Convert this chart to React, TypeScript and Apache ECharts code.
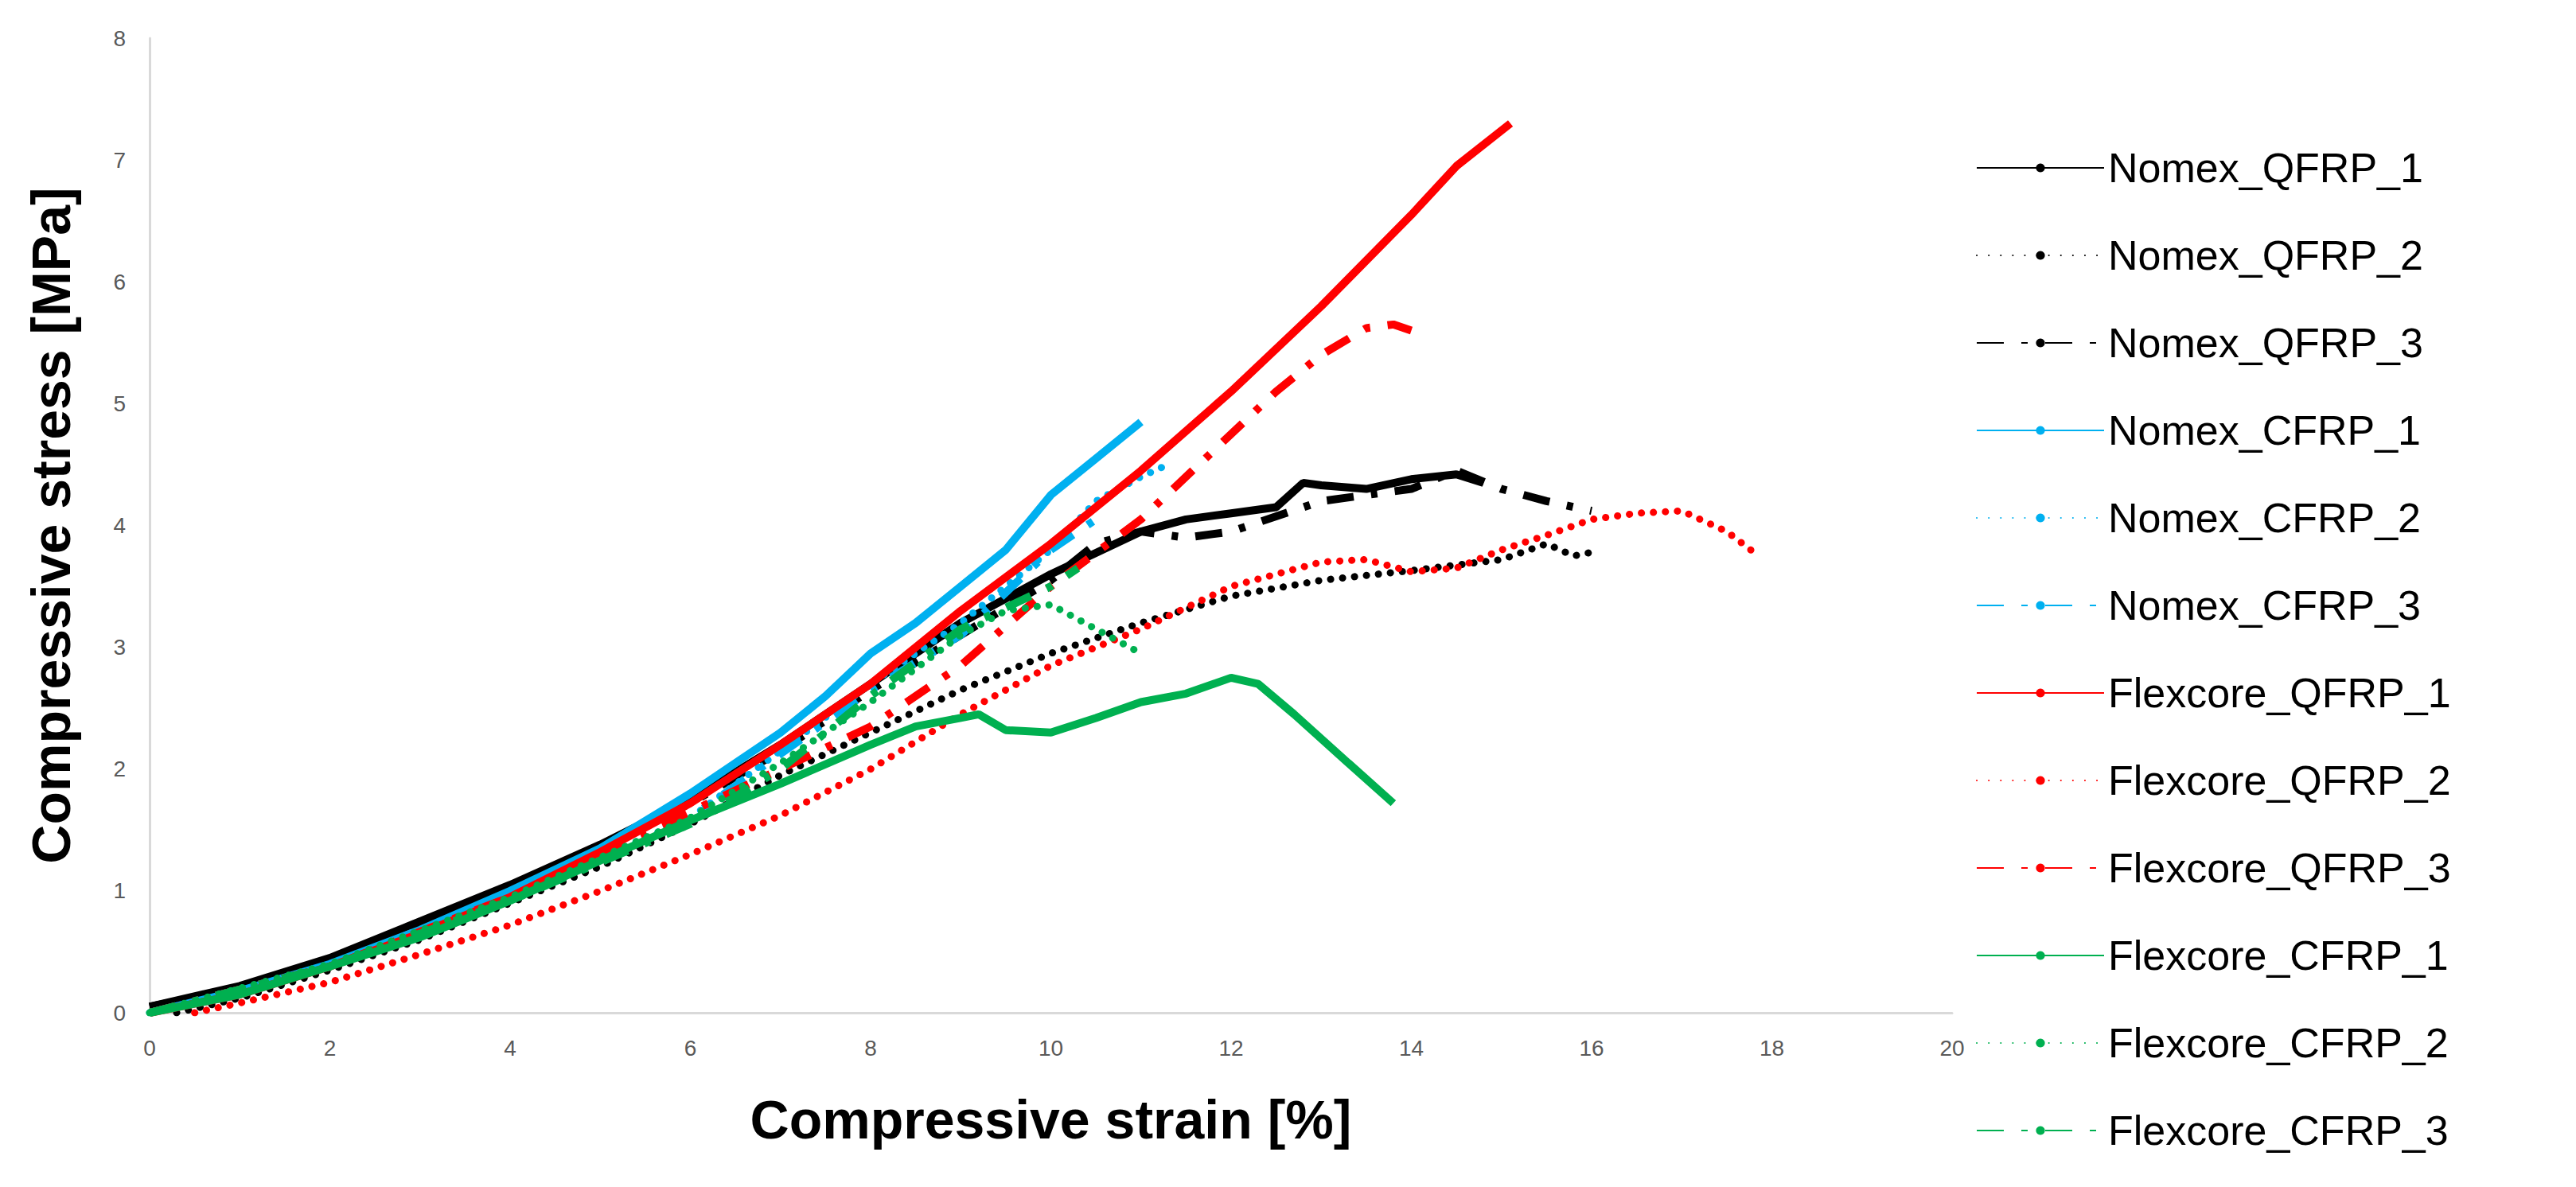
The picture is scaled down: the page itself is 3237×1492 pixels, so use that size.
import React, { useEffect, useRef } from "react";
import * as echarts from "echarts";

const names = ["Nomex_QFRP_1","Nomex_QFRP_2","Nomex_QFRP_3","Nomex_CFRP_1","Nomex_CFRP_2","Nomex_CFRP_3","Flexcore_QFRP_1","Flexcore_QFRP_2","Flexcore_QFRP_3","Flexcore_CFRP_1","Flexcore_CFRP_2","Flexcore_CFRP_3"];
const colors = ["#000000","#000000","#000000","#00B0F0","#00B0F0","#00B0F0","#FF0000","#FF0000","#FF0000","#00B050","#00B050","#00B050"];
const styles = ["solid","dot","dashdot","solid","dot","dashdot","solid","dot","dashdot","solid","dot","dashdot"];

const nomexQ1 = [[0,0.05],[1,0.22],[2,0.45],[3,0.75],[4,1.05],[5,1.38],[6,1.75],[7,2.2],[8,2.7],[9,3.2],[10,3.6],[11,3.95],[11.5,4.05],[12,4.1],[12.5,4.15],[12.8,4.35],[13,4.33],[13.5,4.3],[14,4.38],[14.5,4.42],[14.8,4.35]];
const nomexQ2 = [[0.3,0],[1,0.12],[2,0.35],[3,0.6],[4,0.9],[5,1.2],[6,1.55],[7,1.95],[8,2.3],[9,2.65],[10,2.95],[11,3.2],[12,3.42],[13,3.55],[14,3.63],[15,3.72],[15.5,3.85],[15.8,3.75],[16,3.78]];
const nomexQ3 = [[0,0.05],[1,0.2],[2,0.43],[3,0.72],[4,1.02],[5,1.35],[6,1.72],[7,2.15],[8,2.65],[9,3.1],[10,3.55],[10.5,3.85],[11,3.95],[11.5,3.9],[12,3.95],[13,4.2],[14,4.3],[14.5,4.45],[15,4.3],[15.5,4.2],[16,4.12]];
const nomexC1 = [[0,0],[1,0.18],[2,0.4],[3,0.68],[4,1.0],[5,1.35],[6,1.8],[7,2.3],[7.5,2.6],[8,2.95],[8.5,3.2],[9,3.5],[9.5,3.8],[10,4.25],[10.5,4.55],[11,4.85]];
const nomexC2 = [[0,0],[2,0.38],[4,0.95],[6,1.6],[7,2.15],[8,2.7],[9,3.2],[10,3.8],[10.5,4.2],[11,4.4],[11.3,4.5]];
const nomexC3 = [[0,0],[2,0.38],[4,0.95],[6,1.6],[8,2.65],[9,3.1],[10,3.8],[10.5,4.05]];
const flexQ1 = [[0,0],[1,0.15],[2,0.38],[3,0.65],[4,0.95],[5,1.32],[6,1.72],[7,2.2],[8,2.7],[9,3.3],[10,3.85],[11,4.45],[12,5.1],[13,5.8],[14,6.55],[14.5,6.95],[15.1,7.3]];
const flexQ2 = [[0.5,0],[1,0.08],[2,0.25],[3,0.48],[4,0.72],[5,1.0],[6,1.3],[7,1.62],[8,2.0],[9,2.45],[10,2.85],[11,3.15],[12,3.5],[13,3.7],[13.5,3.72],[14,3.62],[14.5,3.65],[15,3.8],[15.5,3.92],[16,4.05],[16.5,4.1],[17,4.12],[17.5,3.95],[17.8,3.78]];
const flexQ3 = [[0,0],[2,0.38],[4,0.95],[6,1.65],[7,2.0],[8,2.35],[9,2.85],[10,3.5],[11,4.05],[12,4.75],[12.5,5.1],[13,5.4],[13.5,5.62],[13.8,5.65],[14,5.6]];
const flexC1 = [[0,0],[1,0.15],[2,0.38],[3,0.62],[4,0.92],[5,1.25],[6,1.58],[7,1.88],[8,2.2],[8.5,2.35],[9,2.42],[9.2,2.45],[9.5,2.32],[10,2.3],[10.5,2.42],[11,2.55],[11.5,2.62],[12,2.75],[12.3,2.7],[12.7,2.45],[13.3,2.05],[13.8,1.72]];
const flexC2 = [[0,0],[2,0.4],[4,0.95],[6,1.6],[7,2.05],[8,2.55],[9,3.1],[9.5,3.3],[10,3.35],[10.5,3.15],[11,2.95]];
const flexC3 = [[0,0],[2,0.38],[4,0.92],[6,1.55],[7,2.0],[8,2.6],[9,3.15],[10,3.5],[10.3,3.65]];
const allData = [nomexQ1,nomexQ2,nomexQ3,nomexC1,nomexC2,nomexC3,flexQ1,flexQ2,flexQ3,flexC1,flexC2,flexC3];

function lineStyleFor(s: string, c: string) {
  if (s === "solid") return { color: c, width: 10, type: "solid" as any };
  if (s === "dot") return { color: c, width: 9, type: [0.1, 15] as any, cap: "round" as any };
  return { color: c, width: 10, type: [34, 22, 8, 22] as any, cap: "butt" as any };
}

export default function App() {
  const ref = useRef<HTMLDivElement>(null);
  useEffect(() => {
    const chart = echarts.init(ref.current!, null, { renderer: "svg" });
    chart.setOption({
      animation: false,
      backgroundColor: "#fff",
      grid: { left: 188, right: 784, top: 48, bottom: 219 },
      legend: {
        orient: "vertical", left: 2478, top: 180, itemWidth: 160, itemHeight: 14, itemGap: 58,
        textStyle: { fontFamily: "Liberation Sans", fontSize: 52, color: "#000" },
        data: names,
      },
      xAxis: {
        type: "value", min: 0, max: 20, interval: 2,
        name: "Compressive strain [%]", nameLocation: "middle", nameGap: 100,
        nameTextStyle: { fontFamily: "Liberation Sans", fontWeight: "bold", fontSize: 68, color: "#000" },
        axisLine: { lineStyle: { color: "#d9d9d9", width: 3 } },
        axisTick: { show: false }, splitLine: { show: false },
        axisLabel: { fontFamily: "Liberation Sans", fontSize: 28, color: "#595959", margin: 30 },
      },
      yAxis: {
        type: "value", min: 0, max: 8, interval: 1,
        name: "Compressive stress [MPa]", nameLocation: "middle", nameGap: 90,
        nameTextStyle: { fontFamily: "Liberation Sans", fontWeight: "bold", fontSize: 68, color: "#000" },
        axisLine: { show: true, lineStyle: { color: "#d9d9d9", width: 3 } },
        axisTick: { show: false }, splitLine: { show: false },
        axisLabel: { fontFamily: "Liberation Sans", fontSize: 28, color: "#595959", margin: 30 },
      },
      series: names.map((n, i) => ({
        name: n, type: "line", data: allData[i], showSymbol: false, symbol: "none",
        lineStyle: lineStyleFor(styles[i], colors[i]), itemStyle: { color: colors[i] },
      })),
    });
    return () => chart.dispose();
  }, []);
  return <div ref={ref} style={{ position: "absolute", left: 0, top: 0, width: 3237, height: 1492 }} />;
}
